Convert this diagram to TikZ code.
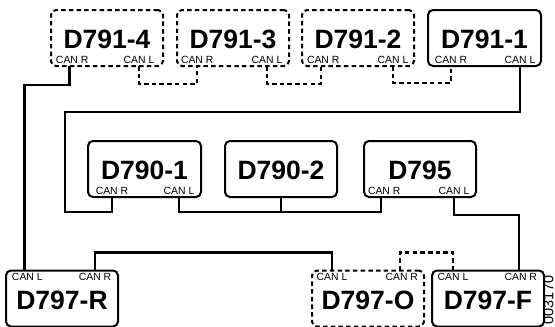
\documentclass[tikz,border=0pt]{standalone}
\usepackage{fontspec}
\setmainfont{Liberation Sans}
\usetikzlibrary{positioning}

\begin{document}
\begin{tikzpicture}[
    x=1pt, y=1pt,
    box/.style={rectangle, draw, line width=2pt, minimum width=112pt, minimum height=56pt, inner sep=0pt, outer sep=0pt, rounded corners=5pt, font=\fontsize{26.5}{26.5}\selectfont\bfseries, text height=21pt, text depth=0pt},
    lowbox/.style={box, text height=22pt},
    off/.style={dash pattern=on 4.5pt off 3.2pt},
    can/.style={font=\fontsize{10.4}{10.4}\selectfont, inner xsep=0pt, inner ysep=3pt, outer sep=0pt, text height=7.5pt, text depth=0pt},
    link/.style={line width=2.4pt, line join=miter},
]
\useasboundingbox (0,0) rectangle (555,-327);

% Top row
\node[box, off] (d4) at (107,-38) {D791-4};
\node[box, off, right=14pt of d4] (d3) {D791-3};
\node[box, off, right=13pt of d3] (d2) {D791-2};
\node[box, minimum width=113pt, right=14pt of d2] (d1) {D791-1};

% Middle row
\node[box, minimum width=113pt] (m1) at (144.5,-169) {D790-1};
\node[box, right=24pt of m1] (m2) {D790-2};
\node[box, right=27pt of m2] (m3) {D795};

% Bottom row
\node[lowbox] (rr) at (62,-298.5) {D797-R};
\node[lowbox, off, right=194pt of rr] (oo) {D797-O};
\node[lowbox, right=8pt of oo] (ff) {D797-F};

% CAN labels
\node[can, above right=0pt and 5pt of d4.south west] (d4r) {CAN R};
\node[can, above left=0pt and 8.7pt of d4.south east] (d4l) {CAN L};
\node[can, above right=0pt and 4pt of d3.south west] (d3r) {CAN R};
\node[can, above left=0pt and 6.7pt of d3.south east] (d3l) {CAN L};
\node[can, above right=0pt and 5pt of d2.south west] (d2r) {CAN R};
\node[can, above left=0pt and 5.7pt of d2.south east] (d2l) {CAN L};
\node[can, above right=0pt and 6.8pt of d1.south west] (d1r) {CAN R};
\node[can, above left=0pt and 5.7pt of d1.south east] (d1l) {CAN L};

\node[can, above right=0pt and 7.8pt of m1.south west] (m1r) {CAN R};
\node[can, above left=0pt and 6.7pt of m1.south east] (m1l) {CAN L};
\node[can, above right=0pt and 4pt of m3.south west] (m3r) {CAN R};
\node[can, above left=0pt and 6.7pt of m3.south east] (m3l) {CAN L};

\node[can, inner ysep=2pt, below right=0pt and 6pt of rr.north west] (rrl) {CAN L};
\node[can, inner ysep=2pt, below left=0pt and 6.8pt of rr.north east] (rrr) {CAN R};
\node[can, inner ysep=2pt, below right=0pt and 4.7pt of oo.north west] (ool) {CAN L};
\node[can, inner ysep=2pt, below left=0pt and 6pt of oo.north east] (oor) {CAN R};
\node[can, inner ysep=2pt, below right=0pt and 5.7pt of ff.north west] (ffl) {CAN L};
\node[can, inner ysep=2pt, below left=0pt and 7pt of ff.north east] (ffr) {CAN R};

% Part number
\node[rotate=90, font=\fontsize{14.5}{14.5}\selectfont, inner sep=0pt] (num) at (548.5,-300) {003170};

% Links - top row
\draw[link] ([xshift=-2.7pt]d4r.south) -- ++(0,-19) -| ([xshift=-3pt]rrl.north);
\draw[link, off] (d4l.south) -- ++(0,-18) -| (d3r.south);
\draw[link, off] (d3l.south) -- ++(0,-18) -| ([xshift=-2pt]d2r.south);
\draw[link, off] (d2l.south) -- ++(0,-17) -| (d1r.south);
\draw[link] (d1l.south) -- ++(0,-46) -| (65,-212) -| (m1r.south);

% Links - middle row
\draw[link] (m1l.south) -- ++(0,-15) -| ([xshift=-3pt]m3r.south);
\draw[link] (m2.south) -- ++(0,-15);
\draw[link] (m3l.south) -- ++(0,-18) -| ([xshift=-2pt]ffr.north);

% Links - bottom row
\draw[link] (rrr.north) -- ++(0,18) -| (ool.north);
\draw[link, off] ([xshift=-2pt]oor.north) -- ++(0,18) -| (ffl.north);

\end{tikzpicture}
\end{document}
